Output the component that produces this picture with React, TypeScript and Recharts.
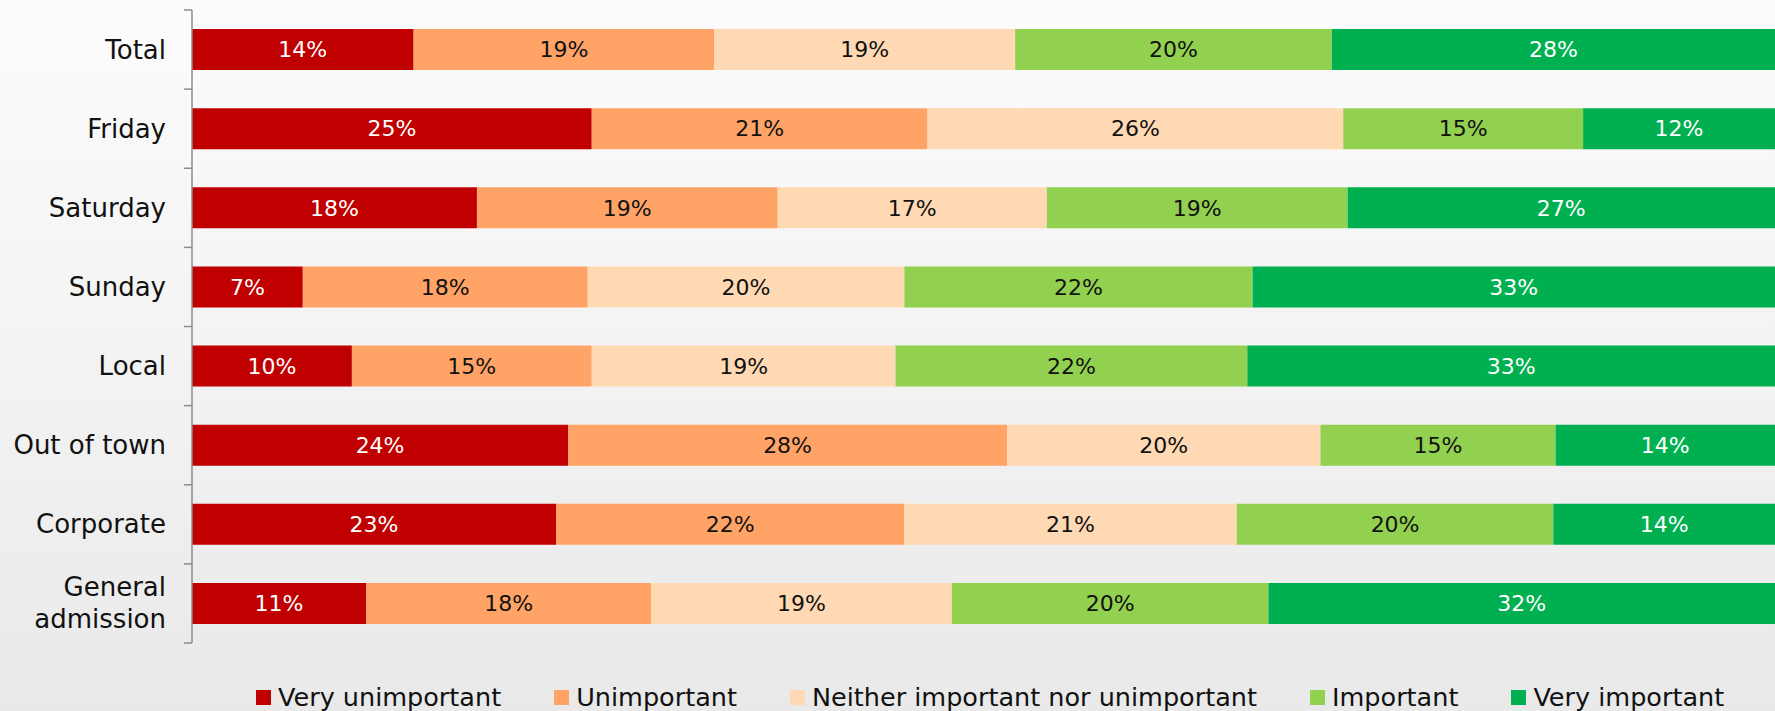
import React from "react";
import { Bar, BarChart, LabelList, XAxis, YAxis } from "recharts";

const categories = [
  "Total",
  "Friday",
  "Saturday",
  "Sunday",
  "Local",
  "Out of town",
  "Corporate",
  "General admission",
];

const veryUnimportant = [14, 25, 18, 7, 10, 24, 23, 11];
const unimportant = [19, 21, 19, 18, 15, 28, 22, 18];
const neither = [19, 26, 17, 20, 19, 20, 21, 19];
const important = [20, 15, 19, 22, 22, 15, 20, 20];
const veryImportant = [28, 12, 27, 33, 33, 14, 14, 32];

const series = [
  { key: "vu", name: "Very unimportant", color: "#C00000", text: "#ffffff", values: veryUnimportant },
  { key: "u", name: "Unimportant", color: "#FFA366", text: "#111111", values: unimportant },
  { key: "n", name: "Neither important nor unimportant", color: "#FFD9B3", text: "#111111", values: neither },
  { key: "i", name: "Important", color: "#92D050", text: "#111111", values: important },
  { key: "vi", name: "Very important", color: "#00B050", text: "#ffffff", values: veryImportant },
];

const data = categories.map((name, i) => {
  const row: Record<string, string | number> = { name };
  series.forEach((s) => {
    row[s.key] = s.values[i];
  });
  return row;
});

const FONT = "'DejaVu Sans', sans-serif";
const W = 1775;
const H = 711;
const TOP = 10;
const BOTTOM = 68;
const BAND = (H - TOP - BOTTOM) / categories.length;

function CategoryTick(props: any) {
  const { x, y, payload, index } = props;
  const words: string[] =
    payload.value === "General admission" ? ["General", "admission"] : [payload.value];
  return (
    <g>
      <line x1={x - 8} x2={x} y1={y - BAND / 2} y2={y - BAND / 2} stroke="#8c8c8c" strokeWidth={1.5} />
      {index === categories.length - 1 && (
        <line x1={x - 8} x2={x} y1={y + BAND / 2} y2={y + BAND / 2} stroke="#8c8c8c" strokeWidth={1.5} />
      )}
      <text x={x - 26} y={y} textAnchor="end" fontFamily={FONT} fontSize={26} fill="#111">
        {words.map((w, k) => (
          <tspan key={w} x={x - 26} dy={k === 0 ? (words.length === 1 ? 9 : -7) : 32}>
            {w}
          </tspan>
        ))}
      </text>
    </g>
  );
}

function ChartLegend() {
  return (
    <div
      style={{
        position: "absolute",
        left: 256,
        top: 681,
        display: "flex",
        gap: 53,
        fontFamily: FONT,
        fontSize: 25.5,
        color: "#111",
        whiteSpace: "nowrap",
        lineHeight: "32px",
      }}
    >
      {series.map((s) => (
        <div key={s.key} style={{ display: "flex", alignItems: "center" }}>
          <span
            style={{ width: 15, height: 15, background: s.color, marginRight: 7, display: "inline-block" }}
          />
          {s.name}
        </div>
      ))}
    </div>
  );
}

export default function App() {
  return (
    <div
      style={{
        position: "absolute",
        left: 0,
        top: 0,
        width: W,
        height: H,
        background: "linear-gradient(180deg, #fcfcfc 0%, #f3f3f3 50%, #e9e9e9 100%)",
        overflow: "hidden",
      }}
    >
      <BarChart
        width={W}
        height={H}
        data={data}
        layout="vertical"
        stackOffset="expand"
        barSize={41}
        margin={{ top: TOP, right: 0, bottom: BOTTOM, left: 0 }}
      >
        <XAxis type="number" hide domain={[0, 1]} />
        <YAxis
          type="category"
          dataKey="name"
          width={192}
          tickSize={0}
          tickMargin={0}
          axisLine={{ stroke: "#8c8c8c", strokeWidth: 1.5 }}
          tickLine={false}
          tick={<CategoryTick />}
          interval={0}
        />
        {series.map((s) => (
          <Bar key={s.key} dataKey={s.key} name={s.name} stackId="a" fill={s.color} isAnimationActive={false}>
            <LabelList
              dataKey={s.key}
              position="center"
              formatter={(v: any) => `${v}%`}
              fill={s.text}
              fontFamily={FONT}
              fontSize={22}
            />
          </Bar>
        ))}
      </BarChart>
      <ChartLegend />
    </div>
  );
}
